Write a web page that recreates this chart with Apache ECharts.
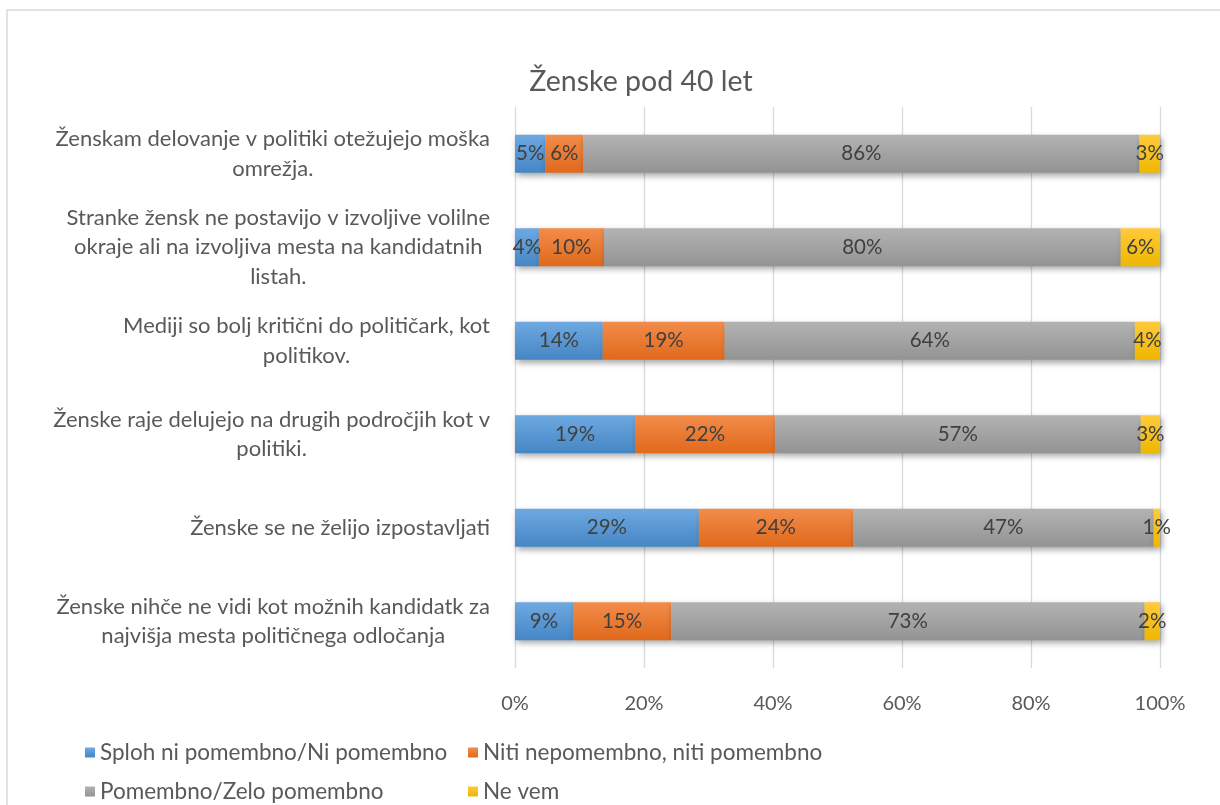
<!DOCTYPE html>
<html>
<head>
<meta charset="utf-8">
<script src="https://cdn.jsdelivr.net/npm/echarts@6/dist/echarts.min.js"></script>
<style>
  html, body { margin: 0; padding: 0; background: #fff; }
  #chart { width: 1220px; height: 805px; }
</style>
</head>
<body>
<div id="chart"></div>
<script>
// categories, top to bottom
const categories = [
  'Ženskam delovanje v politiki otežujejo moška\nomrežja.',
  'Stranke žensk ne postavijo v izvoljive volilne\nokraje ali na izvoljiva mesta na kandidatnih\nlistah.',
  'Mediji so bolj kritični do političark, kot\npolitikov.',
  'Ženske raje delujejo na drugih področjih kot v\npolitiki.',
  'Ženske se ne želijo izpostavljati',
  'Ženske nihče ne vidi kot možnih kandidatk za\nnajvišja mesta političnega odločanja'
]

const seriesNames = [
  'Sploh ni pomembno/Ni pomembno',
  'Niti nepomembno, niti pomembno',
  'Pomembno/Zelo pomembno',
  'Ne vem'
]

// shares in %
const splohNi = [4.7, 3.7, 13.6, 18.6, 28.5, 9.0]
const niti = [5.9, 10.1, 18.9, 21.7, 23.9, 15.2]
const pomembno = [86.2, 80.1, 63.6, 56.7, 46.6, 73.4]
const neVem = [3.2, 6.1, 3.9, 3.0, 1.0, 2.4]

const FONT = 'Lato'
const TXT = '#595959'

function grad(top, bottom) {
  return new echarts.graphic.LinearGradient(0, 0, 0, 1, [
    { offset: 0, color: top },
    { offset: 1, color: bottom }
  ])
}

const colors = [
  { flat: '#5b9bd5', fill: grad('#6ea9e1', '#4586c5') },
  { flat: '#ed7d31', fill: grad('#f28c4a', '#e0691c') },
  { flat: '#a5a5a5', fill: grad('#b3b3b3', '#939393') },
  { flat: '#ffc000', fill: grad('#ffca3c', '#eeb700') }
]

const chart = echarts.init(document.getElementById('chart'))

function makeSeries(i, data) {
  return {
    name: seriesNames[i],
    type: 'bar',
    stack: 'total',
    barWidth: 38,
    data: data,
    itemStyle: {
      color: colors[i].fill,
      shadowColor: 'rgba(0,0,0,0.35)',
      shadowBlur: 6,
      shadowOffsetX: 2,
      shadowOffsetY: 3
    },
    label: {
      show: true,
      position: 'inside',
      color: '#404040',
      fontFamily: FONT,
      fontSize: 20.5,
      formatter: p => Math.round(p.value) + '%'
    },
    emphasis: { disabled: true }
  }
}

chart.setOption({
  animation: false,
  color: colors.map(c => c.flat),
  title: {
    text: 'Ženske pod 40 let',
    left: 636,
    top: 62,
    textAlign: 'center',
    textStyle: { color: TXT, fontFamily: FONT, fontSize: 28.5, fontWeight: 'normal' }
  },
  graphic: [{
    type: 'rect',
    shape: { x: 7, y: 10, width: 1300, height: 900 },
    style: { fill: 'none', stroke: '#d9d9d9', lineWidth: 1.5 },
    silent: true
  }],
  legend: {
    data: seriesNames,
    left: 80,
    top: 736,
    width: 800,
    icon: 'rect',
    itemWidth: 10,
    itemHeight: 10,
    itemGap: 16,
    textStyle: { color: TXT, fontFamily: FONT, fontSize: 22.5, width: 352, lineHeight: 23 },
    itemStyle: { shadowBlur: 0 }
  },
  grid: { left: 515, right: 60, top: 107, bottom: 137 },
  xAxis: {
    type: 'value',
    min: 0,
    max: 100,
    interval: 20,
    axisLine: { show: false },
    axisTick: { show: false },
    splitLine: { lineStyle: { color: '#d9d9d9', width: 1.3 } },
    axisLabel: {
      color: TXT,
      fontFamily: FONT,
      fontSize: 20,
      margin: 26,
      formatter: '{value}%'
    }
  },
  yAxis: {
    type: 'category',
    inverse: true,
    data: categories,
    axisLine: { show: false },
    axisTick: { show: false },
    axisLabel: {
      margin: 25,
      align: 'right',
      formatter: v => v.split('\n').map(l => '{c|' + l + '}').join('\n'),
      rich: {
        c: { align: 'center', color: TXT, fontFamily: FONT, fontSize: 22, lineHeight: 29.5 }
      }
    }
  },
  series: [
    makeSeries(0, splohNi),
    makeSeries(1, niti),
    makeSeries(2, pomembno),
    makeSeries(3, neVem)
  ]
})
</script>
</body>
</html>
